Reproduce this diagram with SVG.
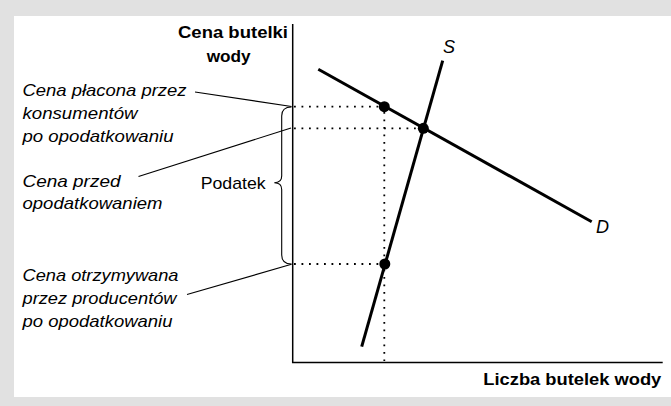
<svg xmlns="http://www.w3.org/2000/svg" width="671" height="406" viewBox="0 0 671 406">
  <style>
    .lbl { font-family: "Liberation Sans", Arial, sans-serif; font-size: 17px; fill: #000; }
    .it { font-style: italic; }
    .b { font-weight: bold; }
    .axis { stroke: #000; stroke-width: 1.5; fill: none; }
    .curve { stroke: #000; stroke-width: 3; fill: none; stroke-linecap: butt; }
    .guide { stroke: #000; stroke-width: 1.8; stroke-dasharray: 1.8 5.7; fill: none; }
    .leader { stroke: #000; stroke-width: 1.1; fill: none; }
  </style>

  <!-- frame -->
  <rect x="0" y="0" width="671" height="406" fill="#e1e1e1"/>
  <rect x="14" y="16" width="657" height="381" fill="#fff"/>

  <!-- axes -->
  <g id="axes">
    <path class="axis" d="M292.7,24 V362.5 H662.7"/>
    <text class="lbl b" x="178" y="38.3" textLength="110" lengthAdjust="spacingAndGlyphs">Cena butelki</text>
    <text class="lbl b" x="206.7" y="61.7" textLength="44" lengthAdjust="spacingAndGlyphs">wody</text>
    <text class="lbl b" x="483.3" y="385" textLength="178" lengthAdjust="spacingAndGlyphs">Liczba butelek wody</text>
  </g>

  <!-- dotted guide lines -->
  <g id="guides">
    <line class="guide" x1="294" y1="106.7" x2="384" y2="106.7"/>
    <line class="guide" x1="294" y1="128.3" x2="423" y2="128.3"/>
    <line class="guide" x1="294" y1="264" x2="384" y2="264"/>
    <line class="guide" x1="384.3" y1="112" x2="384.3" y2="361"/>
  </g>

  <!-- demand and supply curves -->
  <g id="curves">
    <line class="curve" x1="318.3" y1="69.3" x2="591.7" y2="221.7"/>
    <line class="curve" x1="442.7" y1="60.7" x2="361.7" y2="346.7"/>
    <text class="lbl it" x="443" y="53.3" style="font-size:18px">S</text>
    <text class="lbl it" x="596" y="233.3" style="font-size:18px">D</text>
  </g>

  <!-- price points -->
  <g id="points" fill="#000">
    <circle cx="384.3" cy="106.7" r="5.5"/>
    <circle cx="423.3" cy="128.3" r="5.5"/>
    <circle cx="384.8" cy="264" r="5.5"/>
  </g>

  <!-- tax brace -->
  <g id="tax">
    <path class="leader" d="M291.5,107 Q281.7,107 281.7,116 L281.7,176 Q281.7,182.7 274.3,182.7 Q281.7,182.7 281.7,189.5 L281.7,255 Q281.7,264 291.5,264"/>
    <text class="lbl" x="200.7" y="189" textLength="65" lengthAdjust="spacingAndGlyphs">Podatek</text>
  </g>

  <!-- annotations with leader lines -->
  <g id="consumer-price">
    <text class="lbl it" x="22.5" y="96" textLength="164" lengthAdjust="spacingAndGlyphs">Cena płacona przez</text>
    <text class="lbl it" x="22.5" y="119" textLength="115" lengthAdjust="spacingAndGlyphs">konsumentów</text>
    <text class="lbl it" x="22.5" y="141.5" textLength="151" lengthAdjust="spacingAndGlyphs">po opodatkowaniu</text>
  </g>
  <g id="pre-tax-price">
    <text class="lbl it" x="22.5" y="186.5" textLength="98" lengthAdjust="spacingAndGlyphs">Cena przed</text>
    <text class="lbl it" x="22.5" y="209" textLength="140" lengthAdjust="spacingAndGlyphs">opodatkowaniem</text>
  </g>
  <g id="producer-price">
    <text class="lbl it" x="22.5" y="280.7" textLength="156" lengthAdjust="spacingAndGlyphs">Cena otrzymywana</text>
    <text class="lbl it" x="22.5" y="303.5" textLength="154" lengthAdjust="spacingAndGlyphs">przez producentów</text>
    <text class="lbl it" x="22.5" y="326.5" textLength="150" lengthAdjust="spacingAndGlyphs">po opodatkowaniu</text>
  </g>
  <g id="leaders">
    <line class="leader" x1="195" y1="92" x2="291.5" y2="106.5"/>
    <line class="leader" x1="138.5" y1="176.5" x2="291" y2="128"/>
    <line class="leader" x1="187" y1="294.5" x2="291.5" y2="264.3"/>
  </g>
</svg>
